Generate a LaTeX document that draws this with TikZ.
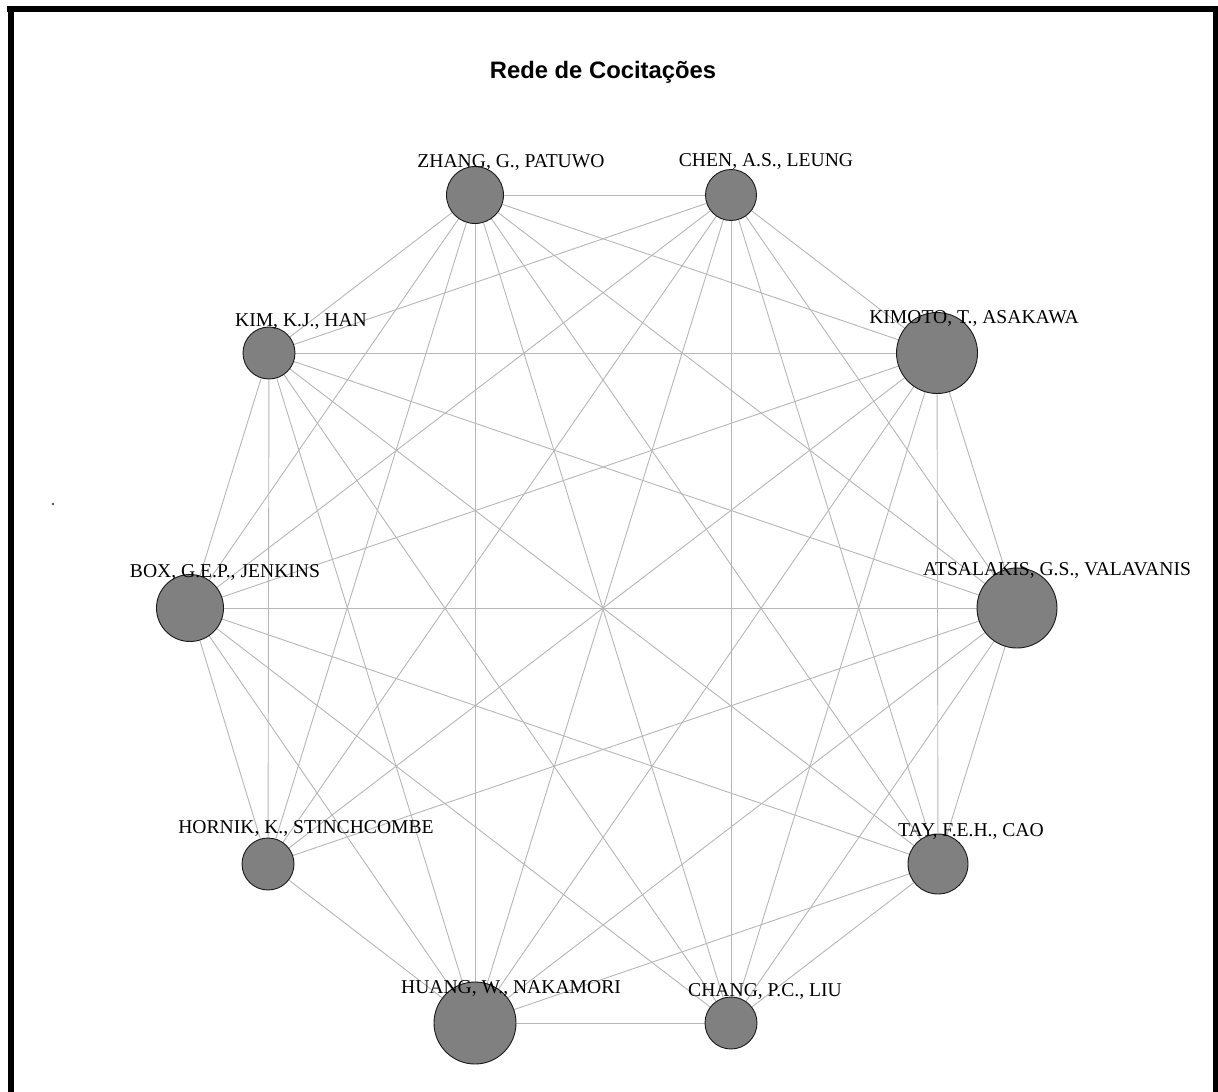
\documentclass[tikz,border=0pt]{standalone}
\usepackage{fontspec}
\setmainfont{Liberation Serif}
\newfontfamily\titlefont{Liberation Sans}
\usetikzlibrary{backgrounds}
\definecolor{nodegray}{RGB}{128,128,128}
\definecolor{edgegray}{RGB}{182,182,182}
\begin{document}
\begin{tikzpicture}[x=1pt,y=-1pt,
  author/.style={circle, draw=black!90, line width=0.9pt, fill=nodegray, inner sep=0pt, minimum size=#1},
  tie/.style={draw=edgegray, line width=0.9pt},
  authorlabel/.style={anchor=base, inner sep=0pt, font=\fontsize{19.6}{19.6}\selectfont}]
\useasboundingbox (0,0) rectangle (1218,1092);

% frame
\fill[black] (7,6) rectangle (1218,12);
\fill[black] (8,6) rectangle (14,1092);
\fill[black] (1213,6) rectangle (1218,1092);

% title
\node[anchor=base, inner sep=0pt, font=\titlefont\bfseries\fontsize{23.8}{23.8}\selectfont] (title) at (603,78) {Rede de Cocita\c{c}\~oes};

% stray mark
\fill[black!70] (53,504) circle (1.3);

% authors
\node[author=80pt] (ats) at (1017,608) {};
\node[author=81pt] (kimoto) at (937,353) {};
\node[author=51pt] (chen) at (731,195) {};
\node[author=57pt] (zhang) at (475,195) {};
\node[author=52pt] (kim) at (269,353) {};
\node[author=67pt] (box) at (190,608) {};
\node[author=52pt] (hornik) at (268,864) {};
\node[author=82pt] (huang) at (475,1023) {};
\node[author=52pt] (chang) at (731,1023) {};
\node[author=60pt] (tay) at (938,864) {};

% co-citation ties
\begin{scope}[on background layer]
\foreach \a/\b in {
  ats/kimoto, ats/chen, ats/zhang, ats/kim, ats/box, ats/hornik, ats/huang, ats/chang, ats/tay,
  kimoto/chen, kimoto/zhang, kimoto/kim, kimoto/box, kimoto/hornik, kimoto/huang, kimoto/chang, kimoto/tay,
  chen/zhang, chen/kim, chen/box, chen/hornik, chen/huang, chen/chang, chen/tay,
  zhang/kim, zhang/box, zhang/hornik, zhang/huang, zhang/chang, zhang/tay,
  kim/box, kim/hornik, kim/huang, kim/chang, kim/tay,
  box/hornik, box/huang, box/chang, box/tay,
  hornik/huang,
  huang/chang, huang/tay,
  chang/tay}
  \draw[tie] (\a) -- (\b);
\end{scope}

% author labels
\node[authorlabel] (l-ats) at ([shift={(40,-33)}]ats.center) {ATSALAKIS, G.S., VALAVANIS};
\node[authorlabel] (l-kimoto) at ([shift={(37,-30)}]kimoto.center) {KIMOTO, T., ASAKAWA};
\node[authorlabel] (l-chen) at ([shift={(35,-29)}]chen.center) {CHEN, A.S., LEUNG};
\node[authorlabel] (l-zhang) at ([shift={(36,-28)}]zhang.center) {ZHANG, G., PATUWO};
\node[authorlabel] (l-kim) at ([shift={(32,-27)}]kim.center) {KIM, K.J., HAN};
\node[authorlabel] (l-box) at ([shift={(35,-31)}]box.center) {BOX, G.E.P., JENKINS};
\node[authorlabel] (l-hornik) at ([shift={(38,-31)}]hornik.center) {HORNIK, K., STINCHCOMBE};
\node[authorlabel] (l-huang) at ([shift={(36,-30)}]huang.center) {HUANG, W., NAKAMORI};
\node[authorlabel] (l-chang) at ([shift={(34,-27)}]chang.center) {CHANG, P.C., LIU};
\node[authorlabel] (l-tay) at ([shift={(33,-28)}]tay.center) {TAY, F.E.H., CAO};
\end{tikzpicture}
\end{document}
